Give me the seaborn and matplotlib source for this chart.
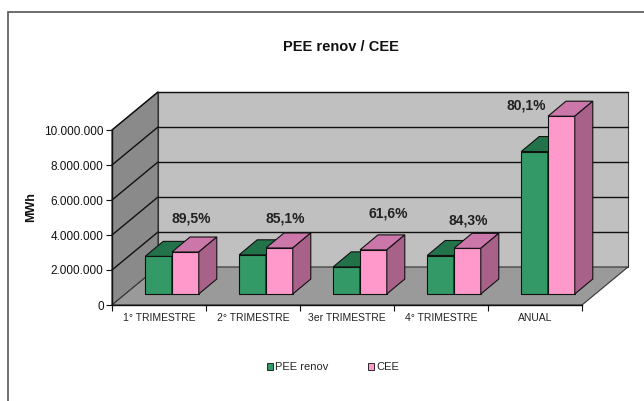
import numpy as np
import pandas as pd
import matplotlib
matplotlib.use("Agg")
import matplotlib.pyplot as plt
import matplotlib.patches as mpatches
from matplotlib.transforms import ScaledTranslation
from matplotlib.ticker import FuncFormatter, FixedLocator
import seaborn as sns


# DATOS
periodos = ["1° TRIMESTRE", "2° TRIMESTRE", "3er TRIMESTRE", "4° TRIMESTRE", "ANUAL"]
pee_renov = [2150000, 2240000, 1550000, 2200000, 8140000]
cee = [2400000, 2630000, 2520000, 2610000, 10160000]
porcentajes = ["89,5%", "85,1%", "61,6%", "84,3%", "80,1%"]
series = ["PEE renov", "CEE"]

df = pd.DataFrame({
    "periodo": periodos * 2,
    "serie": [series[0]] * len(periodos) + [series[1]] * len(periodos),
    "MWh": pee_renov + cee,
})

# colores estilo Excel: frente, arriba, lado
COLORES = {
    "PEE renov": ("#339966", "#23734a", "#1f6b44"),
    "CEE": ("#ff99cc", "#cc77aa", "#a8628a"),
}

DPI = 100
FONDO = (46, 38)        # profundidad del suelo en px
BARRA_OFF = (13, 11)    # posicion de la cara frontal de la barra
BARRA_PROF = (18, 15)   # profundidad de la barra

sns.set_style("white")
plt.rcParams["font.family"] = ["Liberation Sans", "DejaVu Sans"]

fig = plt.figure(figsize=(6.44, 4.01), dpi=DPI)
ax = fig.add_axes([112 / 644, 1 - 305 / 401, 470 / 644, 175 / 401])
ax.set_facecolor("none")

sns.barplot(
    data=df, x="periodo", y="MWh", hue="serie", hue_order=series,
    palette=[COLORES[s][0] for s in series], width=0.57, saturation=1,
    edgecolor="#111111", linewidth=0.8, legend=False, ax=ax,
)
barras = list(ax.patches)

ax.set_xlim(-0.5, len(periodos) - 0.5)
ax.set_ylim(0, 10000000)


def off(x, y, dx, dy):
    X, Y = ax.transData.transform((x, y))
    return ax.transData.inverted().transform((X + dx, Y + dy))


def poly(pts, fc, z, ec="#111111", lw=0.8):
    ax.add_patch(mpatches.Polygon(pts, closed=True, facecolor=fc, edgecolor=ec,
                                  linewidth=lw, zorder=z, clip_on=False))


x0, x1 = ax.get_xlim()
y0, y1 = ax.get_ylim()
dx, dy = FONDO

# paredes y suelo
poly([off(x0, y0, dx, dy), off(x1, y0, dx, dy), off(x1, y1, dx, dy), off(x0, y1, dx, dy)],
     "#c0c0c0", 0.5, ec="#333333")
poly([(x0, y0), (x0, y1), off(x0, y1, dx, dy), off(x0, y0, dx, dy)], "#8a8a8a", 0.6, ec="#333333")
poly([(x0, y0), (x1, y0), off(x1, y0, dx, dy), off(x0, y0, dx, dy)], "#9a9a9a", 0.7, ec="#333333")

# lineas de division
for v in np.arange(2000000, 10000001, 2000000):
    a = off(x0, v, dx, dy)
    b = off(x1, v, dx, dy)
    ax.plot([a[0], b[0]], [a[1], b[1]], color="#111111", lw=1, zorder=1, clip_on=False)
    ax.plot([x0, a[0]], [v, a[1]], color="#111111", lw=1, zorder=1, clip_on=False)

# barras 3D
desplaz = ScaledTranslation(BARRA_OFF[0] / DPI, BARRA_OFF[1] / DPI, fig.dpi_scale_trans)
n = len(periodos)
for i, p in enumerate(barras):
    serie = series[i // n]
    frente, arriba, lado = COLORES[serie]
    z = 3 + i // n
    bx, bw, bh = p.get_x(), p.get_width(), p.get_height()
    p.set_transform(ax.transData + desplaz)
    p.set_zorder(z)
    p.set_clip_on(False)
    ox, oy = BARRA_OFF
    px, py = ox + BARRA_PROF[0], oy + BARRA_PROF[1]
    poly([off(bx, bh, ox, oy), off(bx + bw, bh, ox, oy),
          off(bx + bw, bh, px, py), off(bx, bh, px, py)], arriba, z)
    poly([off(bx + bw, 0, ox, oy), off(bx + bw, bh, ox, oy),
          off(bx + bw, bh, px, py), off(bx + bw, 0, px, py)], lado, z)

# porcentajes
pos_pct = [(0.34, 4.95e6), (1.34, 4.95e6), (2.44, 5.25e6), (3.29, 4.85e6), (3.91, 11.4e6)]
for txt, (tx, ty) in zip(porcentajes, pos_pct):
    ax.text(tx, ty, txt, ha="center", va="center", fontsize=10, fontweight="bold",
            color="#222222", zorder=6, clip_on=False)

# ejes
sns.despine(ax=ax, top=True, right=True)
for s in ["left", "bottom"]:
    ax.spines[s].set_color("#111111")
    ax.spines[s].set_linewidth(1)
    ax.spines[s].set_zorder(2)
ax.yaxis.set_major_locator(FixedLocator(np.arange(0, 10000001, 2000000)))
ax.yaxis.set_major_formatter(FuncFormatter(lambda v, _: f"{v:,.0f}".replace(",", ".")))
ax.tick_params(axis="y", direction="out", length=4, width=0.8, pad=2, labelsize=8.5,
               colors="#111111", left=True)
ax.set_xticks(range(n))
ax.set_xticklabels(periodos)
ax.xaxis.set_minor_locator(FixedLocator(np.arange(-0.5, n, 1.0)))
ax.tick_params(axis="x", which="major", length=0, pad=6, labelsize=7.5, colors="#222222")
ax.tick_params(axis="x", which="minor", direction="out", length=4, width=0.8,
               colors="#111111", bottom=True)
ax.set_xlabel("")
ax.set_ylabel("")

fig.text(341 / 644, 1 - 47 / 401, "PEE renov / CEE", ha="center", va="center",
         fontsize=10.5, fontweight="bold", color="#111111")
fig.text(31 / 644, 1 - 207 / 401, "MWh", ha="center", va="center", rotation=90,
         fontsize=9, fontweight="bold", color="#111111")

# leyenda
handles = [mpatches.Patch(facecolor=COLORES[s][0], edgecolor="#111111", linewidth=0.6, label=s)
           for s in series]
fig.legend(handles=handles, loc="center", bbox_to_anchor=(333 / 644, 1 - 367 / 401),
           ncol=2, frameon=False, fontsize=8, handlelength=0.6, handleheight=0.6,
           handletextpad=0.2, columnspacing=3.5)

# borde del grafico
fig.add_artist(mpatches.Rectangle((8 / 644, -0.2), 1.2, 1.2 - 12 / 401,
                                  transform=fig.transFigure, fill=False,
                                  edgecolor="#555555", linewidth=1.2))

fig.savefig("out.png", dpi=DPI)
